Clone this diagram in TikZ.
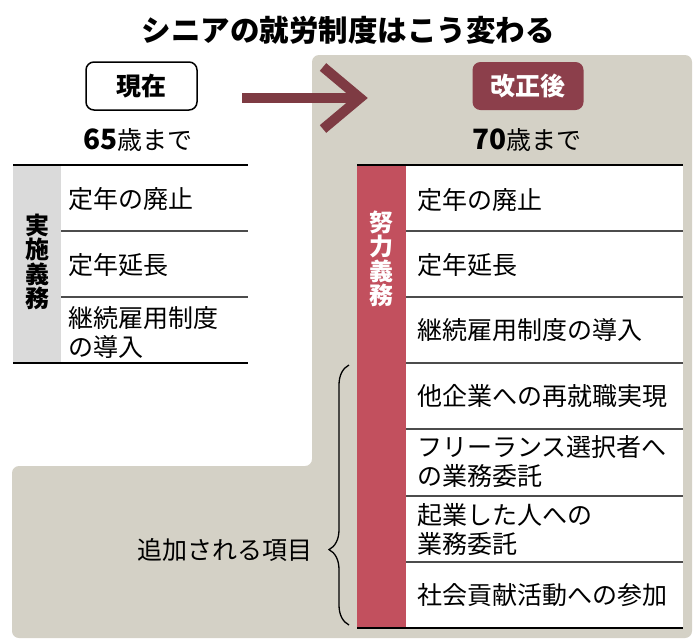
\documentclass[tikz,border=0pt]{standalone}
\usepackage{fontspec}
\setmainfont{Noto Sans CJK JP}
\usetikzlibrary{decorations.pathreplacing}
\definecolor{panelgray}{HTML}{D4D1C6}
\definecolor{colgray}{HTML}{DADADA}
\definecolor{arrowred}{HTML}{7E3B43}
\definecolor{tagred}{HTML}{8C3F4B}
\definecolor{barred}{HTML}{C2505E}
\tikzset{
  rowtext/.style={anchor=west, align=left, inner sep=0pt, font=\fontsize{25}{29}\selectfont},
  sidelabel/.style={align=center, inner sep=0pt, font=\bfseries\fontsize{24}{24.5}\selectfont},
  tag/.style={minimum width=111pt, minimum height=48pt, rounded corners=8pt, inner sep=0pt, font=\bfseries\fontsize{25}{30}\selectfont},
  agetext/.style={font=\fontsize{25}{30}\selectfont},
  thinrule/.style={draw=black!70, line width=1.3pt},
  thickrule/.style={draw=black, line width=2.5pt}
}
\newcommand{\agenum}[1]{{\bfseries\fontsize{28}{30}\selectfont #1}}
\begin{document}
\begin{tikzpicture}[x=1pt,y=-1pt]
    \useasboundingbox (0,0) rectangle (696,641);

    % --- Background panel (L shape) ---
    \fill[panelgray, rounded corners=7pt] (312,55) -- (692,55) -- (692,638) -- (12,638) -- (12,466) -- (312,466) -- cycle;

    % --- Title ---
    \node[font=\bfseries\fontsize{29.5}{32}\selectfont] (title) at (348,30) {シニアの就労制度はこう変わる};

    % --- Headers ---
    \node[tag, draw=black, line width=1.5pt, fill=white] (now) at (141.5,86) {現在};
    \node[tag, fill=tagred, text=white] (after) at (528,86) {改正後};
    \node[agetext] (age65) at (138,140) {\agenum{65}歳まで};
    \node[agetext] (age70) at (527,140) {\agenum{70}歳まで};

    % Arrow
    \coordinate (arrS) at (242,98);
    \coordinate (arrE) at (360,98);
    \coordinate (arrU) at (323,67);
    \coordinate (arrD) at (323,129);
    \draw[arrowred, line width=10pt] (arrS) -- (arrE);
    \draw[arrowred, line width=10pt, line join=miter] (arrU) -- (arrE) -- (arrD);

    % --- Current table (left) ---
    \begin{scope}
        \fill[colgray] (13,165) rectangle (61,363);
        \foreach \y in {231,297} \draw[thinrule] (61,\y) -- (248,\y);
        \draw[thickrule] (13,165) -- (248,165);
        \draw[thickrule] (13,363) -- (248,363);

        \node[sidelabel] (dutyL) at (37,262) {実\\施\\義\\務};
        \node[rowtext] (l1) at (68,199) {定年の廃止};
        \node[rowtext] (l2) at (68,265) {定年延長};
        \node[rowtext] (l3) at (68,332) {継続雇用制度\\の導入};
    \end{scope}

    % --- Revised table (right) ---
    \begin{scope}
        \fill[white] (406,165) rectangle (683,628);
        \fill[barred] (357,165) rectangle (406,628);
        \foreach \y in {231,297,363,429,496,562} \draw[thinrule] (406,\y) -- (683,\y);
        \draw[thickrule] (357,165) -- (683,165);
        \draw[thickrule] (357,628) -- (683,628);

        \node[sidelabel, text=white] (dutyR) at (381,259) {努\\力\\義\\務};
        \node[rowtext] (r1) at (417,200) {定年の廃止};
        \node[rowtext] (r2) at (417,265) {定年延長};
        \node[rowtext] (r3) at (417,330) {継続雇用制度の導入};
        \node[rowtext] (r4) at (417,396) {他企業への再就職実現};
        \node[rowtext] (r5) at (417,462) {フリーランス選択者へ\\の業務委託};
        \node[rowtext] (r6) at (417,529) {起業した人への\\業務委託};
        \node[rowtext] (r7) at (417,595) {社会貢献活動への参加};
    \end{scope}

    % --- Added items brace ---
    \coordinate (brB) at (349,625);
    \coordinate (brT) at (349,365);
    \draw[decorate, decoration={brace, amplitude=20pt, aspect=0.29}, line width=1.3pt] (brB) -- (brT);
    \node[agetext, anchor=east, inner sep=0pt] (added) at (313,550) {追加される項目};
\end{tikzpicture}
\end{document}
